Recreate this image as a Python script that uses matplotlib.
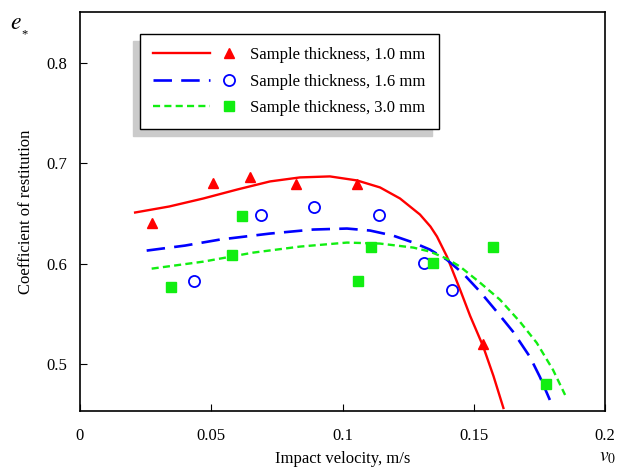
import matplotlib
matplotlib.use("Agg")
import matplotlib.pyplot as plt
from matplotlib.lines import Line2D
from matplotlib.legend_handler import HandlerBase

plt.rcParams["font.family"] = ["Liberation Serif", "DejaVu Serif"]
plt.rcParams["mathtext.fontset"] = "stix"

# measured points
v_10 = [0.0274, 0.0507, 0.0648, 0.0823, 0.1055, 0.1535]
e_10 = [0.641, 0.680, 0.686, 0.679, 0.679, 0.520]

v_16 = [0.0434, 0.069, 0.089, 0.114, 0.131, 0.1417]
e_16 = [0.583, 0.649, 0.656, 0.649, 0.601, 0.574]

v_30 = [0.0347, 0.0579, 0.0616, 0.1059, 0.1109, 0.1345, 0.1573, 0.1775]
e_30 = [0.577, 0.609, 0.648, 0.583, 0.617, 0.601, 0.617, 0.480]

# fitted curves
fit_v_10 = [0.021, 0.034, 0.047, 0.060, 0.0724, 0.0838, 0.0952, 0.1055,
            0.1143, 0.1219, 0.1295, 0.1335, 0.136, 0.1398, 0.1448, 0.1486,
            0.1535, 0.1575, 0.1613]
fit_e_10 = [0.651, 0.657, 0.665, 0.674, 0.682, 0.686, 0.687, 0.683,
            0.676, 0.665, 0.649, 0.637, 0.627, 0.607, 0.574, 0.548,
            0.518, 0.488, 0.456]

fit_v_16 = [0.0254, 0.040, 0.0533, 0.0724, 0.0888, 0.1017, 0.1105, 0.1192,
            0.127, 0.1333, 0.1397, 0.146, 0.1524, 0.1588, 0.165, 0.1714,
            0.1752, 0.179]
fit_e_16 = [0.613, 0.618, 0.624, 0.630, 0.634, 0.635, 0.633, 0.628,
            0.621, 0.614, 0.604, 0.590, 0.572, 0.552, 0.532, 0.507,
            0.487, 0.464]

fit_v_30 = [0.0273, 0.047, 0.066, 0.0838, 0.1017, 0.1143, 0.127, 0.1333,
            0.1397, 0.1448, 0.1524, 0.160, 0.1676, 0.174, 0.1802, 0.1848]
fit_e_30 = [0.595, 0.602, 0.611, 0.617, 0.621, 0.620, 0.616, 0.612,
            0.605, 0.597, 0.581, 0.564, 0.542, 0.521, 0.494, 0.469]

labels = ["Sample thickness, 1.0 mm", "Sample thickness, 1.6 mm",
          "Sample thickness, 3.0 mm"]

red = "#ff0000"
blue = "#0000ff"
green = "#11ee11"
dash_16 = (7, 3.5)
dash_30 = (3, 1.8)

fig = plt.figure(figsize=(6.19, 4.68), dpi=100)
ax = fig.add_axes([80 / 619, 57 / 468, 525 / 619, 399 / 468])

l1, = ax.plot(fit_v_10, fit_e_10, color=red, lw=1.7)
l2, = ax.plot(fit_v_16, fit_e_16, color=blue, lw=1.9, dashes=dash_16)
l3, = ax.plot(fit_v_30, fit_e_30, color=green, lw=1.7, dashes=dash_30)
line_dashes = {l1: None, l2: dash_16, l3: dash_30}

m1, = ax.plot(v_10, e_10, ls="none", marker="^", ms=7, color=red)
m2, = ax.plot(v_16, e_16, ls="none", marker="o", ms=8, mfc="none",
              mec=blue, mew=1.3)
m3, = ax.plot(v_30, e_30, ls="none", marker="s", ms=6.5, color=green)

ax.set_xlim(0, 0.2)
ax.set_ylim(0.453, 0.851)
ax.set_xticks([0, 0.05, 0.1, 0.15, 0.2])
ax.set_xticklabels(["0", "0.05", "0.1", "0.15", "0.2"])
ax.set_yticks([0.5, 0.6, 0.7, 0.8])
ax.set_yticklabels(["0.5", "0.6", "0.7", "0.8"])
ax.tick_params(direction="in", length=5, width=0.8, labelsize=12)
ax.tick_params(axis="x", pad=12)
ax.tick_params(axis="y", pad=9)
for s in ax.spines.values():
    s.set_linewidth(1.2)

ax.set_xlabel("Impact velocity, m/s", fontsize=12, labelpad=5)
ax.set_ylabel("Coefficient of restitution", fontsize=12, labelpad=9)
fig.text(10 / 619, 1 - 29 / 468, r"$e$", fontsize=17)
fig.text(21 / 619, 1 - 37 / 468, "*", fontsize=9)
fig.text(599 / 619, 1 - 461 / 468, r"$v_0$", fontsize=14)


class LineThenMarker(HandlerBase):
    # curve sample on the left, data marker to its right
    def create_artists(self, legend, orig_handle, xdescent, ydescent,
                       width, height, fontsize, trans):
        line, mark = orig_handle
        y = height / 2 - ydescent
        seg = Line2D([-xdescent, -xdescent + 0.71 * width], [y, y],
                     color=line.get_color(), lw=line.get_linewidth(),
                     transform=trans)
        if line_dashes[line] is not None:
            seg.set_dashes(line_dashes[line])
        pt = Line2D([-xdescent + 0.95 * width], [y], ls="none",
                    marker=mark.get_marker(), ms=mark.get_markersize(),
                    mfc=mark.get_markerfacecolor(),
                    mec=mark.get_markeredgecolor(),
                    mew=mark.get_markeredgewidth(), transform=trans)
        return [seg, pt]


leg = ax.legend([(l1, m1), (l2, m2), (l3, m3)], labels,
                handler_map={tuple: LineThenMarker()},
                loc="upper left", bbox_to_anchor=(0.114, 0.945),
                borderaxespad=0, fontsize=12, handlelength=4.8,
                handletextpad=1.0, borderpad=0.8, labelspacing=0.62,
                fancybox=False, framealpha=1, edgecolor="black",
                shadow={"ox": -5, "oy": -5, "color": "#cbcbcb", "alpha": 1})
leg.get_frame().set_linewidth(1.0)

fig.savefig("out.png", dpi=100)
